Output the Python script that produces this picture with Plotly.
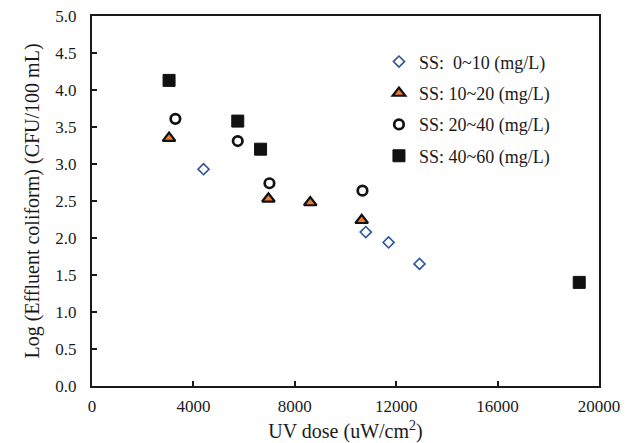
import plotly.graph_objects as go

# UV dose (uW/cm2) and Log(effluent coliform) per SS group
ss_0_10_x = [4400, 10800, 11700, 12920]
ss_0_10_y = [2.93, 2.08, 1.94, 1.65]

ss_10_20_x = [3040, 6960, 8610, 10640]
ss_10_20_y = [3.35, 2.53, 2.48, 2.24]

ss_20_40_x = [3290, 5750, 7000, 10670]
ss_20_40_y = [3.61, 3.31, 2.74, 2.64]

ss_40_60_x = [3040, 5750, 6650, 19220]
ss_40_60_y = [4.13, 3.58, 3.20, 1.40]

names = ["SS:\u00a0\u00a00~10 (mg/L)", "SS: 10~20 (mg/L)", "SS: 20~40 (mg/L)", "SS: 40~60 (mg/L)"]

x_ticks = [0, 4000, 8000, 12000, 16000, 20000]
y_ticks = [0.0, 0.5, 1.0, 1.5, 2.0, 2.5, 3.0, 3.5, 4.0, 4.5, 5.0]

FONT = "Liberation Serif, Times New Roman, serif"
TXT = "#1a1a1a"

fig = go.Figure()
fig.add_trace(go.Scatter(x=ss_0_10_x, y=ss_0_10_y, mode="markers", name=names[0], legendgroup="a",
                         marker=dict(symbol="diamond-open", size=8.5, color="#2f5597", line=dict(width=1.6, color="#2f5597"))))
fig.add_trace(go.Scatter(x=ss_10_20_x, y=ss_10_20_y, mode="markers", name=names[1], legendgroup="b",
                         marker=dict(symbol="triangle-up", size=11, color="#ed7d31", line=dict(width=2.2, color="#111111"))))
fig.add_trace(go.Scatter(x=ss_20_40_x, y=ss_20_40_y, mode="markers", name=names[2], legendgroup="c",
                         marker=dict(symbol="circle-open", size=9.5, color="#111111", line=dict(width=2.7, color="#111111"))))
fig.add_trace(go.Scatter(x=ss_40_60_x, y=ss_40_60_y, mode="markers", name=names[3], legendgroup="d",
                         marker=dict(symbol="square", size=12, color="#111111", line=dict(width=1, color="#111111"))))

fig.update_layout(
    width=630, height=443,
    margin=dict(l=92, r=31, t=16, b=57),
    paper_bgcolor="white", plot_bgcolor="white",
    font=dict(family=FONT, color=TXT, size=17),
    showlegend=True,
    legend=dict(x=0.566, y=0.926, xanchor="left", yanchor="top", bgcolor="rgba(0,0,0,0)",
                font=dict(family=FONT, size=18, color=TXT), tracegroupgap=5, borderwidth=0),
    xaxis=dict(range=[0, 20000], tickvals=x_ticks, ticktext=[str(v) for v in x_ticks],
               showgrid=False, zeroline=False, showline=True, linewidth=2, linecolor="#1a1a1a", mirror=True,
               ticks="inside", ticklen=5, tickwidth=1.5, tickcolor="#1a1a1a", automargin=False,
               tickfont=dict(size=17), ticklabelstandoff=4,
               title=dict(text="UV dose (uW/cm<sup>2</sup>)", font=dict(size=20), standoff=10)),
    yaxis=dict(range=[0, 5], tickvals=y_ticks, ticktext=[f"{v:.1f}" for v in y_ticks],
               showgrid=False, zeroline=False, showline=True, linewidth=2, linecolor="#1a1a1a", mirror=True,
               ticks="inside", ticklen=5, tickwidth=1.5, tickcolor="#1a1a1a", automargin=False,
               tickfont=dict(size=17), ticklabelstandoff=10,
               title=dict(text="Log (Effluent coliform) (CFU/100 mL)", font=dict(size=20), standoff=10)),
)

fig.write_html("out.html")
